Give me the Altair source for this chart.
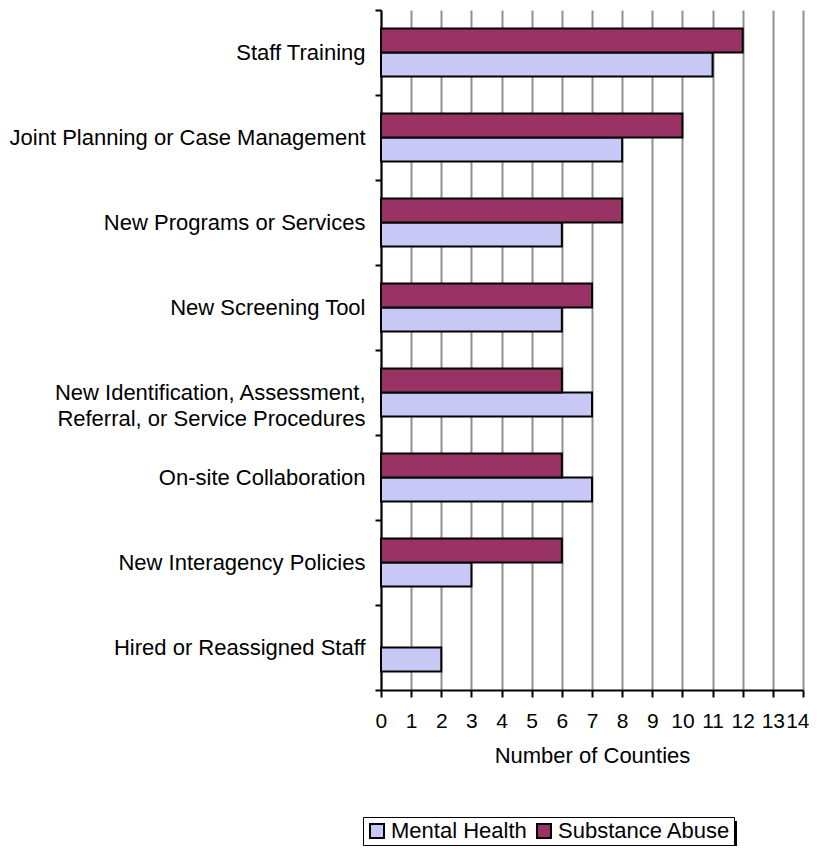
import altair as alt
import pandas as pd

categories = [
    "Staff Training",
    "Joint Planning or Case Management",
    "New Programs or Services",
    "New Screening Tool",
    "New Identification, Assessment,|Referral, or Service Procedures",
    "On-site Collaboration",
    "New Interagency Policies",
    "Hired or Reassigned Staff",
]
mental_health = [11, 8, 6, 6, 7, 7, 3, 2]
substance_abuse = [12, 10, 8, 7, 6, 6, 6, 0]
series = ["Mental Health", "Substance Abuse"]
x_ticks = list(range(0, 15))

rows = []
for c, mh, sa in zip(categories, mental_health, substance_abuse):
    if mh:
        rows.append({"category": c, "series": "Mental Health", "value": mh})
    if sa:
        rows.append({"category": c, "series": "Substance Abuse", "value": sa})
df = pd.DataFrame(rows)

FONT = "Liberation Sans"
FS = 22

bars = alt.Chart(df).mark_bar(stroke="black", strokeWidth=2).encode(
    x=alt.X(
        "value:Q",
        scale=alt.Scale(domain=[0, 14], nice=False),
        axis=alt.Axis(
            values=x_ticks,
            title="Number of Counties",
            grid=True,
            gridColor="#909090",
            gridWidth=2,
            tickSize=7,
            labelPadding=13,
            titlePadding=14,
            labelFontSize=21,
            labelFlush=True,
            labelFlushOffset=6,
            labelOverlap=False,
        ),
    ),
    y=alt.Y(
        "category:N",
        sort=categories,
        scale=alt.Scale(paddingInner=0, paddingOuter=0),
        axis=alt.Axis(
            title=None,
            tickBand="extent",
            tickSize=6,
            labelPadding=10,
            labelExpr="split(datum.label, '|')",
            labelLimit=420,
            labelLineHeight=26,
        ),
    ),
    yOffset=alt.YOffset(
        "series:N",
        sort=["Substance Abuse", "Mental Health"],
        scale=alt.Scale(paddingInner=0, paddingOuter=0.77),
    ),
    color=alt.Color(
        "series:N",
        scale=alt.Scale(domain=series, range=["#c8c8f6", "#993366"]),
        legend=alt.Legend(
            title=None,
            orient="none",
            direction="horizontal",
            legendX=-18,
            legendY=807,
            strokeColor="black",
            fillColor="white",
            padding=3,
            symbolType="square",
            symbolSize=196,
            symbolStrokeColor="black",
            symbolStrokeWidth=2,
            symbolOpacity=1,
            labelFontSize=FS,
            labelFont=FONT,
            labelColor="black",
            labelLimit=400,
            columnPadding=6,
            labelOffset=3,
            zindex=2,
        ),
    ),
)

# drop shadow behind the legend box
shadow = alt.Chart(pd.DataFrame({"k": [0]})).mark_rect(color="black").encode(
    x=alt.value(-14), x2=alt.value(356), y=alt.value(811), y2=alt.value(840)
)

chart = alt.layer(shadow, bars).properties(
    width=422,
    height=680,
    autosize=alt.AutoSizeParams(type="none"),
    padding={"left": 373, "top": 2, "right": 6, "bottom": 156},
).configure_view(
    stroke=None
).configure_axis(
    domainColor="black",
    domainWidth=2,
    tickColor="black",
    tickWidth=2,
    labelFont=FONT,
    titleFont=FONT,
    labelFontSize=FS,
    titleFontSize=FS,
    titleFontWeight="normal",
    labelColor="black",
    titleColor="black",
)

chart.save("out.html", embed_options={"renderer": "svg", "actions": False})
